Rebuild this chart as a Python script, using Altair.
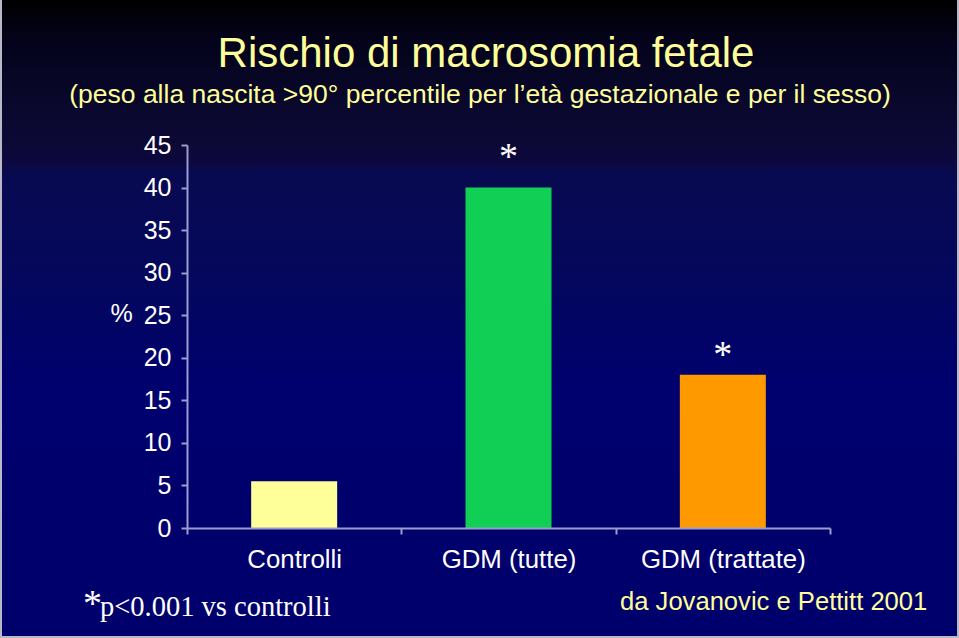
import altair as alt
import pandas as pd

categories = ["Controlli", "GDM (tutte)", "GDM (trattate)"]
values = [5.5, 40.0, 18.0]
bar_colors = ["#FFFF99", "#11CF55", "#FF9900"]
sig_marks = ["", "*", "*"]
star_levels = [None, 42.2, 18.9]
y_ticks = [0, 5, 10, 15, 20, 25, 30, 35, 40, 45]

title_text = "Rischio di macrosomia fetale"
subtitle_text = "(peso alla nascita >90\u00b0 percentile per l\u2019et\u00e0 gestazionale e per il sesso)"
note_star = "*"
note_text = "p<0.001 vs controlli"
source_text = "da Jovanovic e Pettitt 2001"

df = pd.DataFrame({"cat": categories, "val": values, "sig": sig_marks, "star": star_levels})

FW, FH = 959, 638
L, T, R, B = 187, 145, 129, 110
W, H = FW - L - R, FH - T - B

SANS = "Liberation Sans"
SERIF = "Liberation Serif"
AXIS_COL = "#9c9cd0"
EDGE_COL = "#b8b8c8"

one = alt.Data(values=[{}])

bg = alt.Chart(one).mark_rect(
    fill=alt.LinearGradient(
        gradient="linear",
        stops=[
            alt.GradientStop(offset=0, color="#000000"),
            alt.GradientStop(offset=0.06, color="#04031a"),
            alt.GradientStop(offset=0.2, color="#0b0932"),
            alt.GradientStop(offset=0.25, color="#0d083c"),
            alt.GradientStop(offset=0.27, color="#080a50"),
            alt.GradientStop(offset=0.45, color="#04075e"),
            alt.GradientStop(offset=0.6, color="#00006e"),
            alt.GradientStop(offset=1, color="#00006c"),
        ],
        x1=0, x2=0, y1=0, y2=1,
    )
).encode(x=alt.value(-L), x2=alt.value(FW - L), y=alt.value(-T), y2=alt.value(FH - T))

edges = [
    alt.Chart(one).mark_rule(color=EDGE_COL, strokeWidth=2).encode(
        x=alt.value(-L + 1), y=alt.value(-T), y2=alt.value(FH - T)),
    alt.Chart(one).mark_rule(color=EDGE_COL, strokeWidth=2).encode(
        x=alt.value(FW - L - 1), y=alt.value(-T), y2=alt.value(FH - T)),
    alt.Chart(one).mark_rule(color=EDGE_COL, strokeWidth=2).encode(
        x=alt.value(-L), x2=alt.value(FW - L), y=alt.value(FH - T - 1)),
]

x_enc = alt.X(
    "cat:N",
    sort=categories,
    scale=alt.Scale(domain=categories, paddingInner=0, paddingOuter=0),
    axis=alt.Axis(
        title=None, labelAngle=0, tickBand="extent", zindex=2,
        domainColor=AXIS_COL, tickColor=AXIS_COL, domainWidth=2, tickWidth=2, tickSize=6,
        labelColor="white", labelFont=SANS, labelFontSize=25.8, labelPadding=13,
    ),
)
y_enc = alt.Y(
    "val:Q",
    scale=alt.Scale(domain=[0, 45], nice=False),
    axis=alt.Axis(
        values=y_ticks, grid=False, zindex=2,
        domainColor=AXIS_COL, tickColor=AXIS_COL, domainWidth=2, tickWidth=2, tickSize=6,
        labelColor="white", labelFont=SANS, labelFontSize=25, labelPadding=10,
        title="%", titleAngle=0, titleX=-66, titleY=168, titleAlign="center",
        titleBaseline="middle", titleFont=SANS, titleFontSize=25, titleFontWeight="normal",
        titleColor="white",
    ),
)

bars = alt.Chart(df).mark_bar(width=86).encode(
    x=x_enc,
    y=y_enc,
    color=alt.Color("cat:N", scale=alt.Scale(domain=categories, range=bar_colors), legend=None),
)

stars = alt.Chart(df).transform_filter("datum.star != null").mark_text(
    font=SERIF, fontSize=38, color="white", baseline="alphabetic", align="center"
).encode(x=alt.X("cat:N", sort=categories), y=alt.Y("star:Q"), text="sig:N")

def label(text, x, y, size, color, font=SANS, align="center"):
    return alt.Chart(one).mark_text(
        text=text, font=font, fontSize=size, color=color, align=align, baseline="alphabetic"
    ).encode(x=alt.value(x - L), y=alt.value(y - T))

texts = [
    label(title_text, 486, 67, 42, "#FFFF99"),
    label(subtitle_text, 480, 103, 26.5, "#FFFF99"),
    label(note_star, 83, 616, 38, "white", font=SERIF, align="left"),
    label(note_text, 100, 616, 28.5, "white", font=SERIF, align="left"),
    label(source_text, 620, 610, 25.6, "#FFFF99", align="left"),
]

chart = alt.layer(bg, *edges, bars, stars, *texts).properties(
    width=W, height=H,
    autosize=alt.AutoSizeParams(type="none"),
    padding={"left": L, "top": T, "right": R, "bottom": B},
    background="#00006c",
).configure_view(stroke=None)

chart.save("out.html", embed_options={"renderer": "svg", "actions": False})
